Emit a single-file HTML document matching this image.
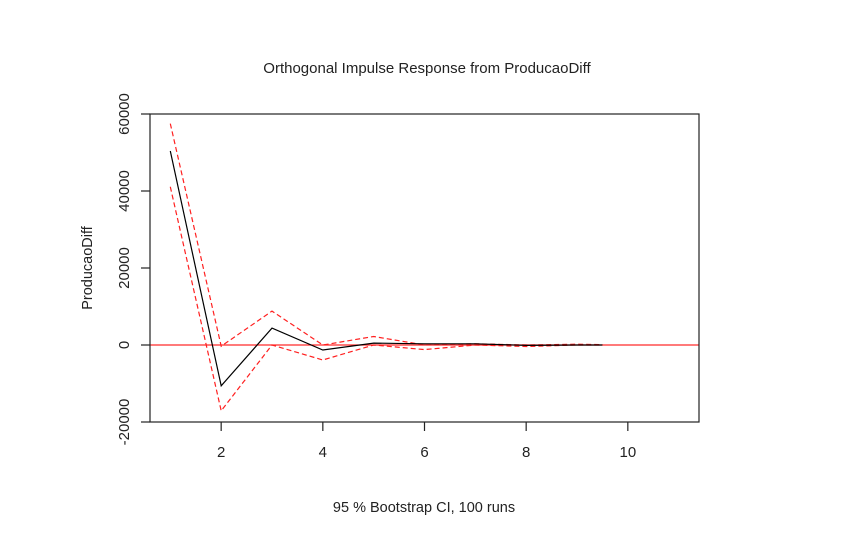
<!DOCTYPE html>
<html><head><meta charset="utf-8"><style>
html,body{margin:0;padding:0;background:#fff;}
svg{display:block;font-family:"Liberation Sans",Arial,sans-serif;}
</style></head><body>
<svg id="chart" width="850" height="535" viewBox="0 0 850 535">
<text x="427" y="73" text-anchor="middle" font-size="15" fill="#222">Orthogonal Impulse Response from ProducaoDiff</text>
<text x="424" y="512" text-anchor="middle" font-size="14.5" fill="#222">95 % Bootstrap CI,  100 runs</text>
<text transform="translate(92,268) rotate(-90)" text-anchor="middle" font-size="14.5" fill="#222">ProducaoDiff</text>
<g id="plot"></g>
</svg>
<script>
const steps = [1,2,3,4,5,6,7,8,9,9.5];
const irf = [50400,-10600,4400,-1300,500,300,300,-100,0,0];
const upper = [57500,-300,8800,0,2200,0,300,0,200,100];
const lower = [41100,-17100,0,-3900,0,-1200,0,-400,0,0];
const xTicks = [2,4,6,8,10];
const yTicks = [-20000,0,20000,40000,60000];
const L=150,R=699,T=114,B=422;
const xMin=0.6,xMax=11.4,yMin=-20000,yMax=60000;
const sx=v=>L+(v-xMin)/(xMax-xMin)*(R-L);
const sy=v=>B-(v-yMin)/(yMax-yMin)*(B-T);
const ns="http://www.w3.org/2000/svg";
const g=document.getElementById('plot');
function mk(tag,attrs){const e=document.createElementNS(ns,tag);for(const k in attrs)e.setAttribute(k,attrs[k]);g.appendChild(e);return e;}
let e;
e=mk('line',{x1:L,x2:R,y1:sy(0),y2:sy(0),stroke:'#ff2a2a','stroke-width':1.3});


function series(arr,color,dash,name){
  const pts=arr.map((v,i)=>sx(steps[i]).toFixed(1)+','+sy(v).toFixed(1)).join(' ');
  const p=mk('polyline',{points:pts,fill:'none',stroke:color,'stroke-width':1.2});
  if(dash)p.setAttribute('stroke-dasharray','5,3');
  
  
}
series(upper,'#ff2020',true,'upper-ci-line');
series(lower,'#ff2020',true,'lower-ci-line');
series(irf,'#000',false,'irf-line');
e=mk('rect',{x:L,y:T,width:R-L,height:B-T,fill:'none',stroke:'#222','stroke-width':1.2});


xTicks.forEach(t=>{
  const x=sx(t);
  const l=mk('line',{x1:x,x2:x,y1:B,y2:B+9,stroke:'#222','stroke-width':1.2});
  
  
  const tx=mk('text',{x:x,y:B+35,'text-anchor':'middle','font-size':15,fill:'#222'});
  tx.textContent=t;
  
  
});
yTicks.forEach(t=>{
  const y=sy(t);
  const l=mk('line',{x1:L-9,x2:L,y1:y,y2:y,stroke:'#222','stroke-width':1.2});
  
  
  const tx=mk('text',{transform:`translate(${L-21},${y}) rotate(-90)`,'text-anchor':'middle','font-size':15,fill:'#222'});
  tx.textContent=t;
  
  
});
</script>
</body></html>
